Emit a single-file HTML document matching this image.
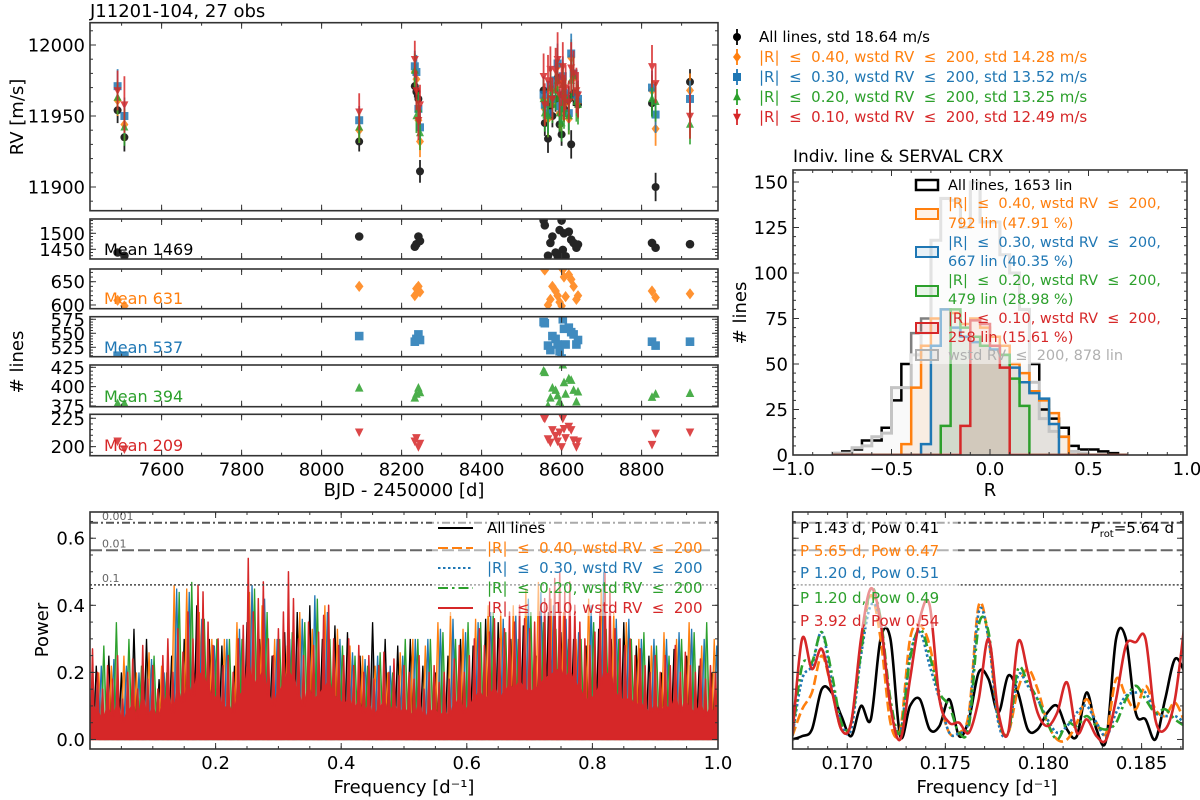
<!DOCTYPE html>
<html><head><meta charset="utf-8"><title>J11201-104 RV diagnostics</title>
<style>
html,body{margin:0;padding:0;background:#fff;}
svg{display:block;font-family:"DejaVu Sans","Liberation Sans",sans-serif;}
text{white-space:pre;}
</style></head>
<body>
<svg id="chart" xmlns="http://www.w3.org/2000/svg" width="1200" height="800" viewBox="0 0 1200 800" xml:space="preserve">
<rect x="0" y="0" width="1200" height="800" fill="#fff"/>
</svg>
<script>
// ---------------- data ----------------
const obsTimes=[7490,7507,8094,8233,8237,8242,8246,8555,8558,8566,8572,8577,8585,8590,8595,8600,8603,8606,8610,8618,8624,8630,8637,8641,8826,8835,8921];
const rvAll=[11954,11935,11932,11971,11967,11962,11911,11968,11945,11934,11957,11950,11962,11977,11944,11937,11965,11955,11960,11962,11930,11966,11961,11958,11959,11900,11974];
const rvR40=[11961,11944,11940,11981,11976,11947,11932,11962,11955,11948,11968,11960,11970,11985,11952,11950,11975,11958,11965,11948,11991,11977,11962,11960,11968,11941,11968];
const rvR30=[11971,11950,11947,11985,11981,11955,11942,11965,11958,11952,11972,11962,11975,11987,11957,11956,11978,11962,11966,11952,11994,11980,11965,11962,11970,11951,11962];
const rvR20=[11963,11942,11942,11982,11950,11955,11938,11962,11952,11950,11970,11958,11968,11975,11952,11945,11972,11955,11963,11950,11975,11978,11960,11958,11962,11960,11944];
const rvR10=[11968,11958,11953,11990,11968,11947,11958,11978,11958,11975,11983,11962,11982,11990,11965,11972,11985,11963,11970,11960,11984,11980,11968,11965,11985,11973,11950];
const errAll=[9,10,7,8,8,8,8,9,9,10,9,8,9,10,9,8,10,9,9,9,10,9,9,9,9,10,9];
const errR40=[11,12,9,10,11,10,11,12,11,13,12,11,12,13,11,11,13,12,12,11,13,12,12,12,11,12,12];
const errR30=[12,13,10,11,12,11,12,13,12,14,13,12,13,14,12,12,14,13,13,12,14,13,13,13,12,13,13];
const errR20=[12,13,11,12,12,12,12,14,13,15,14,13,14,15,13,13,15,14,14,13,15,14,14,14,13,14,14];
const errR10=[14,20,13,13,14,14,14,16,15,18,16,15,16,19,15,15,17,16,16,15,18,16,16,16,15,14,16];
const nlAll=[1440,1430,1490,1458,1466,1490,1476,1540,1525,1430,1470,1490,1440,1430,1510,1540,1448,1500,1428,1505,1480,1470,1455,1465,1470,1455,1466];
const nlR40=[610,598,640,620,635,640,628,678,675,600,612,640,630,620,606,598,676,660,618,665,655,640,612,620,630,616,624];
const nlR30=[510,510,545,535,540,548,538,570,568,528,520,545,540,530,518,505,575,558,530,560,552,548,530,538,535,528,535];
const nlR20=[378,378,398,385,390,398,392,420,418,375,385,398,395,388,380,375,428,405,390,410,408,395,380,393,386,390,391];
const nlR10=[205,198,213,205,208,200,203,226,225,207,204,215,210,205,213,200,225,216,208,218,215,206,200,205,202,212,213];
const nlMeans=[1469,631,537,394,209];

const histStart=-0.8, histWidth=0.05;
const histAll=[0,2,3,8,8,15,30,50,67,75,118,141,140,125,150,128,128,110,100,80,50,25,20,15,5,3,3,2,1,0];
const histWstd=[1,1,4,5,10,12,37,37,55,67,118,141,140,125,150,128,128,110,100,80,40,20,13,10,2,1,0,0,0,0];
const histR40=[0,0,0,0,0,0,0,6,37,60,75,80,78,72,75,70,65,60,50,45,35,30,23,10,0,0,0,0,0,0];
const histR30=[0,0,0,0,0,0,0,0,0,6,60,80,70,65,62,60,58,55,48,40,34,31,17,0,0,0,0,0,0,0];
const histR20=[0,0,0,0,0,0,0,0,0,0,0,16,80,70,65,60,60,55,42,27,0,0,0,0,0,0,0,0,0,0];
const histR10=[0,0,0,0,0,0,0,0,0,0,0,0,0,16,74,72,60,48,0,0,0,0,0,0,0,0,0,0,0,0];

const fapLevels=[0.646,0.564,0.461];
const fapLabels=["0.001","0.01","0.1"];

const pgRedStart=0.004, pgRedStep=0.008;
const pgRed=[0.27,0.2,0.15,0.22,0.18,0.25,0.12,0.2,0.24,0.15,0.28,0.18,0.22,
0.15,0.25,0.3,0.2,0.33,0.26,0.38,0.3,0.46,0.44,0.35,0.28,
0.3,0.22,0.25,0.2,0.3,0.34,0.54,0.38,0.42,0.47,0.3,0.25,0.33,
0.38,0.5,0.42,0.3,0.25,0.35,0.28,0.32,0.37,0.4,0.3,0.28,
0.25,0.3,0.22,0.28,0.2,0.25,0.18,0.22,0.26,0.2,0.24,0.19,0.22,
0.2,0.18,0.25,0.15,0.2,0.22,0.17,0.2,0.18,0.24,0.28,0.2,
0.25,0.3,0.33,0.28,0.32,0.36,0.3,0.33,0.38,0.35,0.4,0.36,0.33,
0.35,0.38,0.42,0.45,0.48,0.5,0.44,0.47,0.4,0.35,0.3,0.28,
0.32,0.38,0.5,0.45,0.33,0.3,0.28,0.3,0.25,0.27,0.22,0.2,0.25,
0.2,0.25,0.22,0.28,0.2,0.26,0.22,0.2,0.24,0.18,0.22,0.2];
const pgRedFloor=[0.1,0.08,0.06,0.09,0.07,0.1,0.05,0.08,0.1,0.06,0.12,0.07,0.09,
0.06,0.1,0.13,0.08,0.14,0.11,0.16,0.13,0.2,0.19,0.15,0.12,
0.13,0.09,0.1,0.08,0.13,0.14,0.22,0.16,0.18,0.2,0.13,0.1,0.14,
0.16,0.2,0.18,0.13,0.1,0.15,0.12,0.13,0.15,0.17,0.13,0.12,
0.1,0.12,0.09,0.11,0.08,0.1,0.07,0.09,0.11,0.08,0.1,0.08,0.09,
0.08,0.07,0.1,0.06,0.08,0.09,0.07,0.08,0.07,0.1,0.12,0.08,
0.1,0.12,0.14,0.12,0.13,0.15,0.12,0.14,0.16,0.15,0.17,0.15,0.14,
0.15,0.16,0.18,0.19,0.2,0.21,0.18,0.2,0.17,0.15,0.12,0.12,
0.13,0.16,0.2,0.19,0.14,0.12,0.12,0.12,0.1,0.11,0.09,0.08,0.1,
0.08,0.1,0.09,0.12,0.08,0.11,0.09,0.08,0.1,0.07,0.09,0.08];
const pgStart=0.01, pgStep=0.02;
const pgAll=[0.22,0.25,0.2,0.33,0.3,0.18,0.25,0.3,0.4,0.3,0.28,0.22,0.35,0.3,0.25,0.32,0.38,0.4,0.3,0.34,0.32,0.25,0.35,0.3,0.28,0.3,0.22,0.2,0.25,0.3,0.28,0.36,0.35,0.3,0.34,0.25,0.38,0.32,0.3,0.28,0.33,0.3,0.35,0.28,0.25,0.2,0.27,0.25,0.22,0.2];
const pgR40=[0.2,0.22,0.25,0.2,0.26,0.22,0.46,0.45,0.38,0.3,0.3,0.35,0.44,0.4,0.3,0.28,0.38,0.33,0.4,0.33,0.28,0.25,0.22,0.2,0.26,0.3,0.28,0.35,0.38,0.33,0.36,0.4,0.38,0.4,0.45,0.47,0.42,0.38,0.3,0.42,0.45,0.38,0.35,0.3,0.28,0.32,0.3,0.35,0.28,0.3];
const pgR30=[0.22,0.24,0.22,0.2,0.24,0.2,0.45,0.44,0.36,0.28,0.3,0.33,0.46,0.42,0.3,0.3,0.36,0.43,0.38,0.3,0.26,0.24,0.25,0.22,0.25,0.3,0.3,0.33,0.36,0.32,0.35,0.38,0.36,0.37,0.42,0.44,0.4,0.36,0.32,0.4,0.5,0.36,0.36,0.3,0.3,0.3,0.32,0.33,0.3,0.28];
const pgR20=[0.28,0.35,0.3,0.22,0.25,0.2,0.44,0.47,0.36,0.3,0.3,0.3,0.45,0.38,0.3,0.32,0.35,0.42,0.3,0.28,0.25,0.22,0.26,0.2,0.3,0.3,0.3,0.32,0.3,0.35,0.35,0.38,0.32,0.3,0.38,0.35,0.33,0.3,0.3,0.35,0.33,0.3,0.3,0.32,0.28,0.25,0.3,0.32,0.35,0.3];

const zStart=0.1672, zStep=0.0005;
const zAll=[0.0,0.01,0.03,0.15,0.14,0.07,0.01,0.10,0.06,0.30,0.30,0.01,0.10,0.12,0.03,0.04,0.12,0.01,0.06,0.20,0.18,0.08,0.19,0.14,0.03,0.03,0.08,0.10,0.03,0.01,0.14,0.03,0.0,0.30,0.30,0.08,0.06,0.0,0.12,0.24,0.2];
const zR40=[0.01,0.09,0.14,0.25,0.15,0.03,0.05,0.28,0.43,0.30,0.05,0.03,0.30,0.34,0.28,0.12,0.02,0.02,0.08,0.40,0.30,0.06,0.02,0.15,0.21,0.15,0.05,0.0,0.0,0.05,0.12,0.05,0.02,0.18,0.13,0.09,0.16,0.09,0.07,0.11,0.05];
const zR30=[0.01,0.18,0.22,0.32,0.18,0.05,0.03,0.25,0.40,0.35,0.1,0.02,0.25,0.32,0.22,0.12,0.02,0.02,0.06,0.38,0.30,0.05,0.02,0.19,0.16,0.12,0.06,0.02,0.04,0.08,0.10,0.05,0.01,0.08,0.13,0.14,0.14,0.08,0.07,0.07,0.05];
const zR20=[0.01,0.22,0.23,0.32,0.2,0.05,0.05,0.26,0.45,0.36,0.12,0.02,0.24,0.33,0.25,0.14,0.1,0.02,0.04,0.34,0.32,0.07,0.02,0.21,0.17,0.12,0.05,0.0,0.05,0.04,0.07,0.04,0.03,0.05,0.12,0.16,0.12,0.08,0.09,0.06,0.04];
const zR10=[0.01,0.30,0.21,0.27,0.15,0.03,0.05,0.30,0.45,0.35,0.10,0.0,0.18,0.36,0.40,0.12,0.05,0.05,0.02,0.12,0.30,0.08,0.02,0.29,0.20,0.08,0.04,0.08,0.17,0.02,0.06,0.01,0.0,0.12,0.28,0.29,0.30,0.06,0.03,0.12,0.35];

// ---------------- helpers ----------------
const NS='http://www.w3.org/2000/svg';
const svg=document.getElementById('chart');
const C=['#000000','#ff7f0e','#1f77b4','#2ca02c','#d62728'];
function mk(tag,attrs,parent){const e=document.createElementNS(NS,tag);for(const k in attrs)e.setAttribute(k,attrs[k]);(parent||svg).appendChild(e);return e;}
let clipId=0;
function makeAx(x0,x1,y0,y1,xd,yd){
  const ax={x0,x1,y0,y1,
    x:v=>x0+(v-xd[0])/(xd[1]-xd[0])*(x1-x0),
    y:v=>y1-(v-yd[0])/(yd[1]-yd[0])*(y1-y0),xd,yd};
  clipId++;
  const cp=mk('clipPath',{id:'clip'+clipId});
  mk('rect',{x:x0,y:y0,width:x1-x0,height:y1-y0},cp);
  ax.clip='url(#clip'+clipId+')';
  return ax;
}
function frame(ax,name){
  const r=mk('rect',{x:ax.x0,y:ax.y0,width:ax.x1-ax.x0,height:ax.y1-ax.y0,fill:'none',stroke:'#333','stroke-width':1.6});
  
  
}
function xTicks(ax,name,vals,len,labels){
  const g=mk('g',{stroke:'#333','stroke-width':1});
  
  
  vals.forEach((v,i)=>{const X=ax.x(v);if(X<ax.x0-0.5||X>ax.x1+0.5)return;
    const t1=mk('line',{x1:X,x2:X,y1:ax.y1,y2:ax.y1-len},g);
    
    
    const t2=mk('line',{x1:X,x2:X,y1:ax.y0,y2:ax.y0+len},g);
    
    
    if(labels){const t=mk('text',{x:X,y:ax.y1+20,'text-anchor':'middle','font-size':18,fill:'#000',stroke:'none'},g);t.textContent=labels[i];
      
      }
  });
}
function yTicks(ax,name,vals,len,labels){
  const g=mk('g',{stroke:'#333','stroke-width':1});
  
  
  vals.forEach((v,i)=>{const Y=ax.y(v);if(Y<ax.y0-0.5||Y>ax.y1+0.5)return;
    const t1=mk('line',{x1:ax.x0,x2:ax.x0+len,y1:Y,y2:Y},g);
    
    
    const t2=mk('line',{x1:ax.x1,x2:ax.x1-len,y1:Y,y2:Y},g);
    
    
    if(labels){const t=mk('text',{x:ax.x0-5,y:Y+6.5,'text-anchor':'end','font-size':18,fill:'#000',stroke:'none'},g);t.textContent=labels[i];
      
      }
  });
}
function range(a,b,s){const r=[];for(let v=a;v<=b+s*1e-6;v+=s)r.push(+v.toFixed(6));return r;}
function txt(x,y,s,size,fill,anchor,name,extra){
  const t=mk('text',Object.assign({x:x,y:y,'font-size':size,fill:fill,'text-anchor':anchor||'start'},extra||{}));
  t.textContent=s;
  
  
  return t;
}
function marker(g,kind,X,Y,col,s){
  let e;
  if(kind==='o')e=mk('circle',{cx:X,cy:Y,r:s},g);
  else if(kind==='D')e=mk('polygon',{points:`${X},${Y-s*1.3} ${X+s},${Y} ${X},${Y+s*1.3} ${X-s},${Y}`},g);
  else if(kind==='s')e=mk('rect',{x:X-s,y:Y-s,width:2*s,height:2*s},g);
  else if(kind==='^')e=mk('polygon',{points:`${X},${Y-s*1.2} ${X+s},${Y+s*0.8} ${X-s},${Y+s*0.8}`},g);
  else e=mk('polygon',{points:`${X},${Y+s*1.2} ${X+s},${Y-s*0.8} ${X-s},${Y-s*0.8}`},g);
  e.setAttribute('fill',col);
  return e;
}
const kinds=['o','D','s','^','v'];
const LE='  \u2264  ';

// ---------------- title ----------------
txt(90,17,'J11201-104, 27 obs',18,'#000','start','figure-title');

// ---------------- RV panel ----------------
const axRV=makeAx(90,718,22.7,210.7,[7421,8991],[11883.3,12015.7]);
const rvSeries=[rvAll,rvR40,rvR30,rvR20,rvR10];
const rvErr=[errAll,errR40,errR30,errR20,errR10];
const rvNames=['rv-all-lines','rv-r040','rv-r030','rv-r020','rv-r010'];
rvSeries.forEach((ser,si)=>{
  const g=mk('g',{opacity:0.85,'clip-path':axRV.clip});
  
  
  ser.forEach((v,i)=>{
    const X=axRV.x(obsTimes[i]);
    const eb=mk('line',{x1:X,x2:X,y1:axRV.y(v-rvErr[si][i]),y2:axRV.y(v+rvErr[si][i]),stroke:C[si],'stroke-width':1.8},g);
    
    
    const m=marker(g,kinds[si],X,axRV.y(v),C[si],4);
    
    
  });
});
frame(axRV,'rv-panel');
xTicks(axRV,'rv-x-minor-ticks',range(7500,8900,100),3);
xTicks(axRV,'rv-x-major-ticks',range(7600,8800,200),6);
yTicks(axRV,'rv-y-minor-ticks',range(11890,12010,10),3);
yTicks(axRV,'rv-y-major-ticks',[11900,11950,12000],6,['11900','11950','12000']);
txt(0,0,'RV [m/s]',18,'#000','middle','rv-y-axis-title',{transform:'translate(23,117) rotate(-90)'});

const legTexts=['All lines, std 18.64 m/s','|R|'+LE+'0.40, wstd RV'+LE+'200, std 14.28 m/s','|R|'+LE+'0.30, wstd RV'+LE+'200, std 13.52 m/s','|R|'+LE+'0.20, wstd RV'+LE+'200, std 13.25 m/s','|R|'+LE+'0.10, wstd RV'+LE+'200, std 12.49 m/s'];
legTexts.forEach((s,i)=>{
  const Y=37+i*20;
  const g=mk('g',{});
  
  
  const l=mk('line',{x1:737,x2:737,y1:Y-8,y2:Y+8,stroke:C[i],'stroke-width':1.8},g);
  
  
  const m=marker(g,kinds[i],737,Y,C[i],4);
  
  
  const t=mk('text',{x:759,y:Y+5,'font-size':15,fill:C[i]},g);t.textContent=s;
  
  
});

// ---------------- number of lines subpanels ----------------
const nlSeries=[nlAll,nlR40,nlR30,nlR20,nlR10];
const nlBoxes=[[219,259,1419.7,1544.7],[269,308.7,592,677.3],[316.7,356.7,508.2,579.6],[365,406.7,374,428],[414.3,455.7,192,228.5]];
const nlTicks=[[1450,1500],[600,650],[525,550,575],[375,400,425],[200,225]];
const nlMinor=[10,10,5,5,5];
const nlMeanY=[249,298,347,396,445];
const nlNames=['nlines-all','nlines-r040','nlines-r030','nlines-r020','nlines-r010'];
nlSeries.forEach((ser,si)=>{
  const b=nlBoxes[si];
  const ax=makeAx(90,718,b[0],b[1],[7421,8991],[b[2],b[3]]);
  const g=mk('g',{opacity:0.85,'clip-path':ax.clip});
  
  
  ser.forEach((v,i)=>{
    const m=marker(g,kinds[si],ax.x(obsTimes[i]),ax.y(v),C[si],4.3);
    
    
  });
  frame(ax,nlNames[si]+'-panel');
  xTicks(ax,nlNames[si]+'-x-minor-ticks',range(7500,8900,100),3);
  xTicks(ax,nlNames[si]+'-x-major-ticks',range(7600,8800,200),6,si===4?range(7600,8800,200).map(String):null);
  const mn=Math.ceil(b[2]/nlMinor[si])*nlMinor[si];
  yTicks(ax,nlNames[si]+'-y-minor-ticks',range(mn,b[3],nlMinor[si]),3);
  yTicks(ax,nlNames[si]+'-y-major-ticks',nlTicks[si],6,nlTicks[si].map(String));
  txt(104,nlMeanY[si]+6,'Mean '+nlMeans[si],16,C[si],'start',nlNames[si]+'-mean-label');
});
txt(0,0,'# lines',18,'#000','middle','nlines-y-axis-title',{transform:'translate(23,362) rotate(-90)'});
txt(404,496,'BJD - 2450000 [d]',18,'#000','middle','bjd-x-axis-title');

// ---------------- histogram ----------------
const axH=makeAx(793,1187,170,455,[-1,1],[0,156.6]);
txt(793,162,'Indiv. line & SERVAL CRX',17,'#000','start','histogram-title');
const histSeries=[histAll,histR40,histR30,histR20,histR10,histWstd];
const histCols=['#000',C[1],C[2],C[3],C[4],'#c4c4c4'];
const histNames=['hist-all-lines','hist-r040','hist-r030','hist-r020','hist-r010','hist-wstd'];
function stepPath(ax,counts){
  let d=`M${ax.x(histStart)},${ax.y(0)}`;
  counts.forEach((c,i)=>{const a=histStart+i*histWidth;d+=` L${ax.x(a)},${ax.y(c)} L${ax.x(a+histWidth)},${ax.y(c)}`;});
  d+=` L${ax.x(histStart+counts.length*histWidth)},${ax.y(0)}`;
  return d;
}
histSeries.forEach((ser,si)=>{
  const f=mk('path',{d:stepPath(axH,ser)+' Z',fill:histCols[si],'fill-opacity':si===0?0:0.1,stroke:'none','clip-path':axH.clip});
  
  
});
[0,5,1,2,3,4].forEach(si=>{
  const p=mk('path',{d:stepPath(axH,histSeries[si]),fill:'none',stroke:histCols[si],'stroke-width':si===5?3:2.5,'clip-path':axH.clip});
  
  
});
const hl=mk('rect',{x:910,y:174,width:275,height:190,fill:'#fff','fill-opacity':0.5});


const hLeg=[
 {c:'#000',p:185,f:0,lines:[['All lines, 1653 lin',190]]},
 {c:C[1],p:214,f:0.1,lines:[['|R|'+LE+'0.40, wstd RV'+LE+'200,',208],['792 lin (47.91 %)',228]]},
 {c:C[2],p:252,f:0.1,lines:[['|R|'+LE+'0.30, wstd RV'+LE+'200,',247],['667 lin (40.35 %)',266]]},
 {c:C[3],p:291,f:0.1,lines:[['|R|'+LE+'0.20, wstd RV'+LE+'200,',285],['479 lin (28.98 %)',304]]},
 {c:C[4],p:328,f:0.1,lines:[['|R|'+LE+'0.10, wstd RV'+LE+'200,',323],['258 lin (15.61 %)',342]]},
 {c:'#b0b0b0',p:355,f:0.1,lines:[['wstd RV'+LE+'200, 878 lin',360]]}];
hLeg.forEach((e,i)=>{
  const g=mk('g',{});
  
  
  const r=mk('rect',{x:916,y:e.p-5,width:22,height:10,fill:e.c,'fill-opacity':e.f,stroke:e.c,'stroke-width':i===0?2.5:2},g);
  
  
  e.lines.forEach(l=>{const t=mk('text',{x:948,y:l[1],'font-size':14.5,fill:e.c},g);t.textContent=l[0];
    
    });
});
frame(axH,'histogram-panel');
xTicks(axH,'hist-x-minor-ticks',range(-1,1,0.1),3);
xTicks(axH,'hist-x-major-ticks',[-1,-0.5,0,0.5,1],6,['\u22121.0','\u22120.5','0.0','0.5','1.0']);
yTicks(axH,'hist-y-minor-ticks',range(0,155,5),3);
yTicks(axH,'hist-y-major-ticks',range(0,150,25),6,range(0,150,25).map(String));
txt(990,496,'R',18,'#000','middle','hist-x-axis-title');
txt(0,0,'# lines',18,'#000','middle','hist-y-axis-title',{transform:'translate(746,313) rotate(-90)'});

// ---------------- wide periodogram ----------------
const axP=makeAx(90,718,512,749,[0,1],[-0.0284,0.6782]);
function spikes(ax,start,step,vals,floor){
  let d='M'+ax.x(start-step/2)+','+ax.y(0)+' ';
  vals.forEach((v,i)=>{const f=start+i*step;
    const lo=floor?floor[i]:0;
    d+='L'+ax.x(f-step/4)+','+ax.y(lo)+' L'+ax.x(f)+','+ax.y(v)+' L'+ax.x(f+step/4)+','+ax.y(lo)+' ';});
  d+='L'+ax.x(start+vals.length*step-step/2)+','+ax.y(0);
  return d;
}
const pgSets=[[pgAll,pgStart,pgStep,'#000'],[pgR40,pgStart+0.004,pgStep,C[1]],[pgR30,pgStart+0.008,pgStep,C[2]],[pgR20,pgStart+0.012,pgStep,C[3]]];
const pgNames=['pg-all-lines','pg-r040','pg-r030','pg-r020'];
pgSets.forEach((s,si)=>{
  const p=mk('path',{d:spikes(axP,s[1],s[2],s[0],null),fill:s[3],'fill-opacity':0.5,stroke:s[3],'stroke-width':1.3,'clip-path':axP.clip});
  
  
});
const pr0=mk('path',{d:spikes(axP,pgRedStart,pgRedStep,pgRed,pgRedFloor)+' Z',fill:C[4],stroke:C[4],'stroke-width':1.5,'stroke-linejoin':'round','clip-path':axP.clip});


const fapDash=['8,3,2,3','12,4','2,2'];
const fapCol=['#555','#666','#444'];
function fapLines(ax,labels,prefix){
  fapLevels.forEach((v,i)=>{
    const l=mk('line',{x1:ax.x0,x2:ax.x1,y1:ax.y(v),y2:ax.y(v),stroke:fapCol[i],'stroke-width':i===2?1.5:2,'stroke-dasharray':fapDash[i]});
    
    
    if(labels)txt(ax.x0+12,ax.y(v)-3,fapLabels[i],11,'#666','start',prefix+'-fap-label');
  });
}
fapLines(axP,true,'pg');
const pl=mk('rect',{x:432,y:516,width:284,height:100,fill:'#fff','fill-opacity':0.5});


const pgLeg=['All lines','|R|'+LE+'0.40, wstd RV'+LE+'200','|R|'+LE+'0.30, wstd RV'+LE+'200','|R|'+LE+'0.20, wstd RV'+LE+'200','|R|'+LE+'0.10, wstd RV'+LE+'200'];
const lineDash=['none','10,4','2.5,2.5','10,4,2.5,4','none'];
pgLeg.forEach((s,i)=>{
  const Y=528+i*20;
  const g=mk('g',{});
  
  
  const l=mk('line',{x1:438,x2:473,y1:Y,y2:Y,stroke:C[i],'stroke-width':2,'stroke-dasharray':lineDash[i]},g);
  
  
  const t=mk('text',{x:487,y:Y+5,'font-size':15,fill:C[i]},g);t.textContent=s;
  
  
});
frame(axP,'periodogram-panel');
xTicks(axP,'pg-x-minor-ticks',range(0.05,0.95,0.05),3);
xTicks(axP,'pg-x-major-ticks',[0.2,0.4,0.6,0.8,1.0],6,['0.2','0.4','0.6','0.8','1.0']);
yTicks(axP,'pg-y-minor-ticks',range(0,0.65,0.05),3);
yTicks(axP,'pg-y-major-ticks',[0,0.2,0.4,0.6],6,['0.0','0.2','0.4','0.6']);
txt(404,793,'Frequency [d\u207b\u00b9]',18,'#000','middle','pg-x-axis-title');
txt(0,0,'Power',18,'#000','middle','pg-y-axis-title',{transform:'translate(48,630) rotate(-90)'});

// ---------------- zoomed periodogram ----------------
const axZ=makeAx(792.7,1183,512,749,[0.16722,0.18711],[-0.0284,0.6782]);
function smooth(ax,start,step,vals){
  const pts=vals.map((v,i)=>[ax.x(start+i*step),ax.y(v)]);
  let d='M'+pts[0][0]+','+pts[0][1];
  for(let i=0;i<pts.length-1;i++){
    const p0=pts[Math.max(0,i-1)],p1=pts[i],p2=pts[i+1],p3=pts[Math.min(pts.length-1,i+2)];
    const c1=[p1[0]+(p2[0]-p0[0])/6,p1[1]+(p2[1]-p0[1])/6];
    const c2=[p2[0]-(p3[0]-p1[0])/6,p2[1]-(p3[1]-p1[1])/6];
    d+=` C${c1[0]},${c1[1]} ${c2[0]},${c2[1]} ${p2[0]},${p2[1]}`;
  }
  return d;
}
const zSets=[zAll,zR40,zR30,zR20,zR10];
const zNames=['zoom-pg-all-lines','zoom-pg-r040','zoom-pg-r030','zoom-pg-r020','zoom-pg-r010'];
fapLines(axZ,false,'zoom-pg');
zSets.forEach((s,si)=>{
  const p=mk('path',{d:smooth(axZ,zStart,zStep,s),fill:'none',stroke:C[si],'stroke-width':2.6,'stroke-dasharray':lineDash[si],'clip-path':axZ.clip});
  
  
});
const zl=mk('rect',{x:796,y:516,width:162,height:112,fill:'#fff','fill-opacity':0.5});


const zTexts=['P 1.43 d, Pow 0.41','P 5.65 d, Pow 0.47','P 1.20 d, Pow 0.51','P 1.20 d, Pow 0.49','P 3.92 d, Pow 0.54'];
const zTY=[533,556,578,603,626];
zTexts.forEach((s,i)=>txt(800,zTY[i],s,15,C[i],'start','zoom-pg-peak-annotation'));
const pr=mk('text',{x:1174,y:533,'font-size':15,fill:'#000','text-anchor':'end'});


const ts1=mk('tspan',{'font-style':'italic'},pr);ts1.textContent='P';
const ts2=mk('tspan',{'font-size':10,dy:4},pr);ts2.textContent='rot';
const ts3=mk('tspan',{dy:-4},pr);ts3.textContent='=5.64 d';
frame(axZ,'zoom-periodogram-panel');
xTicks(axZ,'zoom-pg-x-minor-ticks',range(0.168,0.187,0.001),3);
xTicks(axZ,'zoom-pg-x-major-ticks',[0.170,0.175,0.180,0.185],6,['0.170','0.175','0.180','0.185']);
yTicks(axZ,'zoom-pg-y-minor-ticks',range(0,0.65,0.05),3);
yTicks(axZ,'zoom-pg-y-major-ticks',[0,0.2,0.4,0.6],6);
txt(987,793,'Frequency [d\u207b\u00b9]',18,'#000','middle','zoom-pg-x-axis-title');
</script>
</body></html>
